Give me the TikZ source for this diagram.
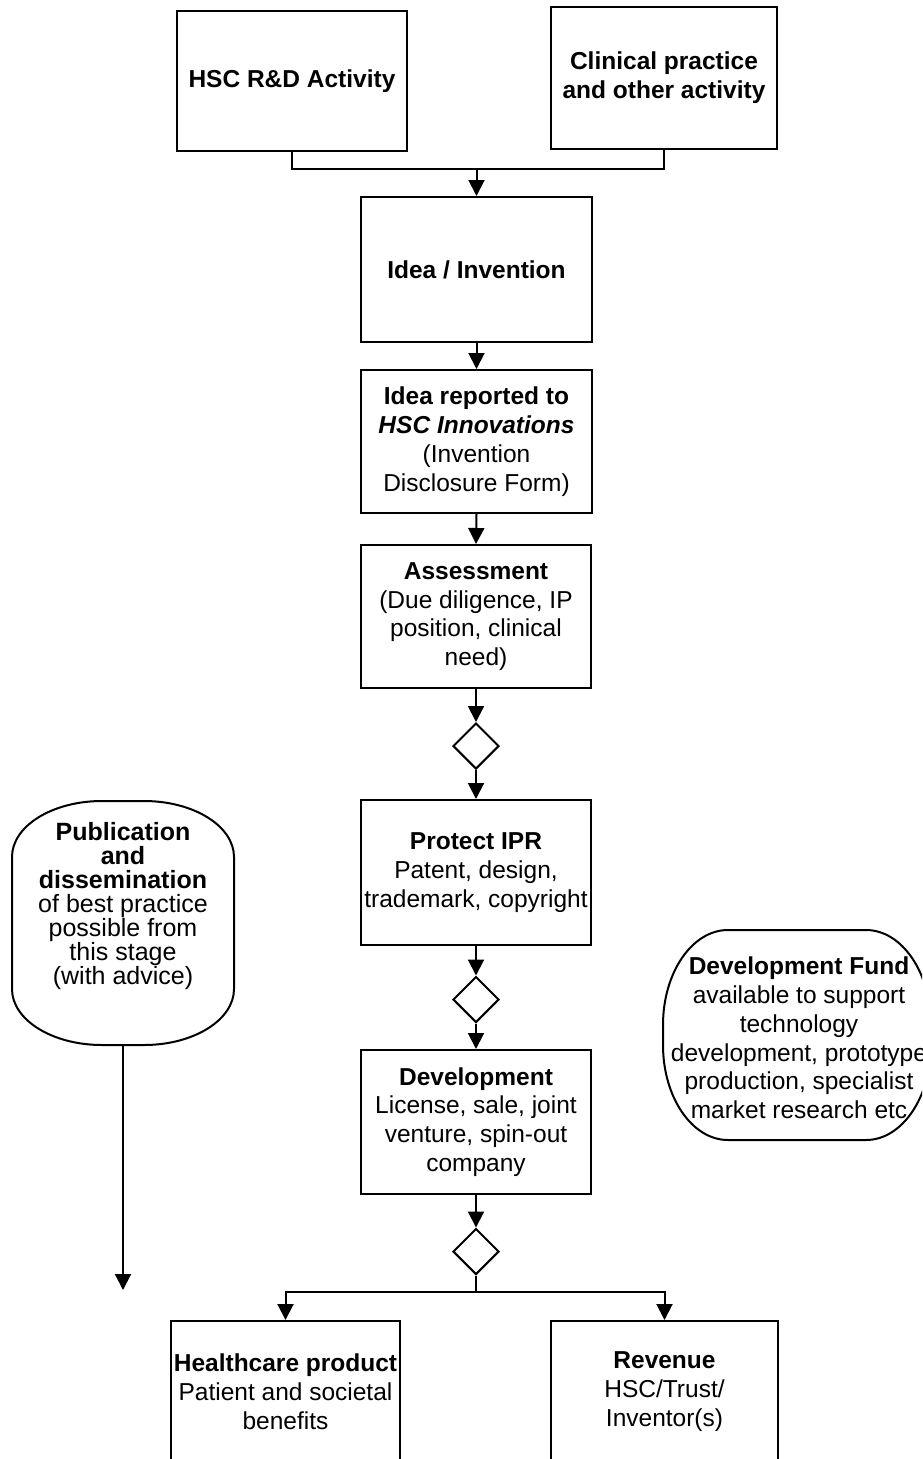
\documentclass[tikz,border=0pt]{standalone}
\usepackage{fontspec}
\setmainfont{Liberation Sans}
\usetikzlibrary{arrows.meta,shapes.geometric}
\begin{document}
\begin{tikzpicture}[x=1pt,y=-1pt,
  every node/.style={font=\fontsize{24.5}{28.8}\selectfont},
  box/.style={draw,line width=2pt,rectangle,align=center,inner sep=0pt},
  dia/.style={draw,line width=2pt,diamond,minimum width=46pt,minimum height=46pt,inner sep=0pt},
  txt/.style={align=center,inner sep=0pt},
  arr/.style={line width=2pt,-{Triangle[length=16pt,width=16pt]}},
  ln/.style={line width=2pt}]
\useasboundingbox (0,0) rectangle (922,1459);
\fill[white] (0,0) rectangle (922,1459);
\clip (0,0) rectangle (922,1459);

% top boxes
\node[box,minimum width=230pt,minimum height=140pt] (b1) at (292,81) {\textbf{HSC R\&D Activity}};
\node[box,minimum width=226pt,minimum height=142pt] (b2) at (664,78) {\textbf{Clinical practice}\\\textbf{and other activity}};
\coordinate (join) at (476.5,169);

% main column
\node[box,minimum width=231pt,minimum height=145pt] (idea) at (476.5,269.5) {\textbf{Idea / Invention}};
\node[box,minimum width=231pt,minimum height=143pt] (rep) at (476.5,441.5) {\textbf{Idea reported to}\\\textbf{\textit{HSC Innovations}}\\(Invention\\Disclosure Form)};
\node[box,minimum width=230pt,minimum height=143pt] (ass) at (476,616.5) {\textbf{Assessment}\\(Due diligence, IP\\position, clinical\\need)};
\node[dia] (d1) at (476,746) {};
\node[box,minimum width=230pt,minimum height=145pt] (ipr) at (476,872.5) {\textbf{Protect IPR}\\Patent, design,\\trademark, copyright};
\node[dia] (d2) at (476,999.5) {};
\node[box,minimum width=230pt,minimum height=144pt] (dev) at (476,1122) {\textbf{Development}\\License, sale, joint\\venture, spin-out\\company};
\node[dia] (d3) at (476,1251.5) {};
\coordinate (split) at (476,1292);

% bottom boxes
\node[box,minimum width=229pt,minimum height=141pt] (hc) at (285.5,1391.5) {\textbf{Healthcare product}\\Patient and societal\\benefits};
\node[box,minimum width=227pt,minimum height=141pt] (rev) at (664.5,1391.5) {\textbf{Revenue}\\HSC/Trust/\\Inventor(s)};

% publication shape
\node[minimum width=222pt,minimum height=244pt,inner sep=0pt] (pub) at (123,923) {};
\draw[ln] (12,857) .. controls (12,826.1) and (52.3,801) .. (102,801) -- (144,801)
  .. controls (193.7,801) and (234,826.1) .. (234,857) -- (234,989)
  .. controls (234,1019.9) and (193.7,1045) .. (144,1045) -- (102,1045)
  .. controls (52.3,1045) and (12,1019.9) .. (12,989) -- cycle;
\node[txt,font=\fontsize{25}{24}\selectfont] (pubtxt) at (123,906) {\textbf{Publication}\\\textbf{and}\\\textbf{dissemination}\\of best practice\\possible from\\this stage\\(with advice)};
\coordinate (pubend) at (123,1290);

% development fund shape
\node[minimum width=268pt,minimum height=210pt,inner sep=0pt] (fund) at (797,1035) {};
\draw[ln] (663,1025) .. controls (663,972.6) and (692.1,930) .. (728,930) -- (866,930)
  .. controls (901.9,930) and (931,972.6) .. (931,1025) -- (931,1045)
  .. controls (931,1097.4) and (901.9,1140) .. (866,1140) -- (728,1140)
  .. controls (692.1,1140) and (663,1097.4) .. (663,1045) -- cycle;
\node[txt] (fundtxt) at (799,1038) {\textbf{Development Fund}\\available to support\\technology\\development, prototype\\production, specialist\\market research etc};

% connectors
\draw[ln] (b1.south) |- (join) -| (b2.south);
\draw[arr] (join) -- (idea.north);
\draw[arr] (idea.south) -- (rep.north);
\draw[arr] (rep.south) -- (ass.north);
\draw[arr] (ass.south) -- (d1.north);
\draw[arr] (d1.south) -- (ipr.north);
\draw[arr] (ipr.south) -- (d2.north);
\draw[arr] (d2.south) -- (dev.north);
\draw[arr] (dev.south) -- (d3.north);
\draw[ln] (d3.south) -- (split);
\draw[arr] (split) -| (hc.north);
\draw[arr] (split) -| (rev.north);
\draw[arr] (pub.south) -- (pubend);
\end{tikzpicture}
\end{document}
